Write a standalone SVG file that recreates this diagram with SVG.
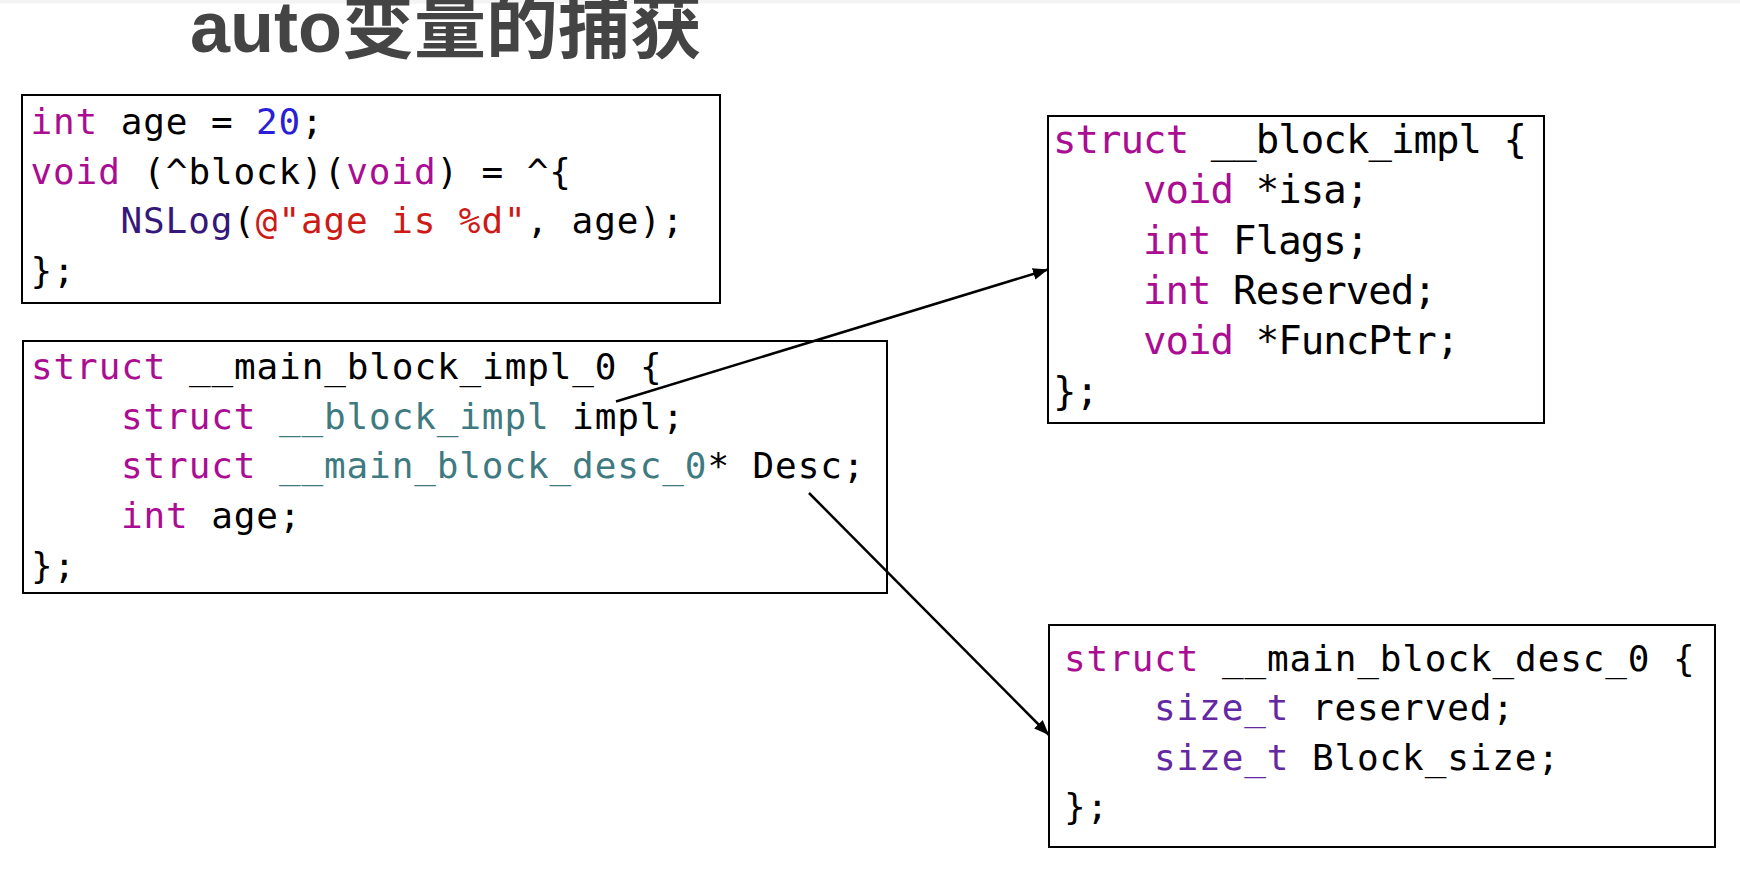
<svg xmlns="http://www.w3.org/2000/svg" width="1740" height="874" viewBox="0 0 1740 874">
<style>
.box{fill:#ffffff;stroke:#000000;stroke-width:2}
.code{font-family:"DejaVu Sans Mono","Liberation Mono",monospace;font-size:36px;letter-spacing:0.88px;fill:#000000;white-space:pre}
.big{font-size:39px;letter-spacing:-0.95px}
.k{fill:#AA0D91}
.t{fill:#3F7A80}
.f{fill:#35177A}
.s{fill:#CC1A16}
.n{fill:#2A1ED6}
.p{fill:#6428A3}
.title{font-family:"Liberation Sans","Noto Sans CJK SC",sans-serif;font-weight:bold;font-size:72px;fill:#444444}
.conn{stroke:#000000;stroke-width:2.5;fill:none}
</style>
<defs>
<marker id="arrow" markerUnits="userSpaceOnUse" markerWidth="16" markerHeight="12" refX="15" refY="6" orient="auto">
<path d="M0,0 L15,6 L0,12 Z" fill="#000000"/>
</marker>
</defs>
<rect x="0" y="0" width="1740" height="874" fill="#ffffff"/>
<rect x="0" y="0" width="1740" height="3.5" fill="#f3f3f3"/>
<text class="title" x="190" y="52">auto变量的捕获</text>

<g id="node-block-def">
<rect class="box" x="22" y="95" width="698" height="208"/>
<text class="code" x="30.5" y="134"><tspan class="k">int</tspan> age = <tspan class="n">20</tspan>;</text>
<text class="code" x="30.5" y="183.5"><tspan class="k">void</tspan> (^block)(<tspan class="k">void</tspan>) = ^{</text>
<text class="code" x="120.5" y="233"><tspan class="f">NSLog</tspan>(<tspan class="s">@"age is %d"</tspan>, age);</text>
<text class="code" x="30.5" y="283">};</text>
</g>

<g id="node-main-block-impl">
<rect class="box" x="23" y="341" width="864" height="252"/>
<text class="code" x="31" y="379"><tspan class="k">struct</tspan> __main_block_impl_0 {</text>
<text class="code" x="121" y="428.5"><tspan class="k">struct</tspan> <tspan class="t">__block_impl</tspan> impl;</text>
<text class="code" x="121" y="478"><tspan class="k">struct</tspan> <tspan class="t">__main_block_desc_0</tspan>* Desc;</text>
<text class="code" x="121" y="528"><tspan class="k">int</tspan> age;</text>
<text class="code" x="31" y="578">};</text>
</g>

<g id="node-block-impl">
<rect class="box" x="1048" y="116" width="496" height="307"/>
<text class="code big" x="1053" y="153"><tspan class="k">struct</tspan> __block_impl {</text>
<text class="code big" x="1143" y="203"><tspan class="k">void</tspan> *isa;</text>
<text class="code big" x="1143" y="254"><tspan class="k">int</tspan> Flags;</text>
<text class="code big" x="1143" y="304"><tspan class="k">int</tspan> Reserved;</text>
<text class="code big" x="1143" y="354"><tspan class="k">void</tspan> *FuncPtr;</text>
<text class="code big" x="1053" y="405">};</text>
</g>

<g id="node-main-block-desc">
<rect class="box" x="1049" y="625" width="666" height="222"/>
<text class="code" x="1064" y="671"><tspan class="k">struct</tspan> __main_block_desc_0 {</text>
<text class="code" x="1154" y="720"><tspan class="p">size_t</tspan> reserved;</text>
<text class="code" x="1154" y="769.5"><tspan class="p">size_t</tspan> Block_size;</text>
<text class="code" x="1064" y="819">};</text>
</g>

<g id="connectors">
<line class="conn" x1="616" y1="401.5" x2="1048" y2="269.5" marker-end="url(#arrow)"/>
<line class="conn" x1="809" y1="493" x2="1049" y2="735" marker-end="url(#arrow)"/>
</g>
</svg>
